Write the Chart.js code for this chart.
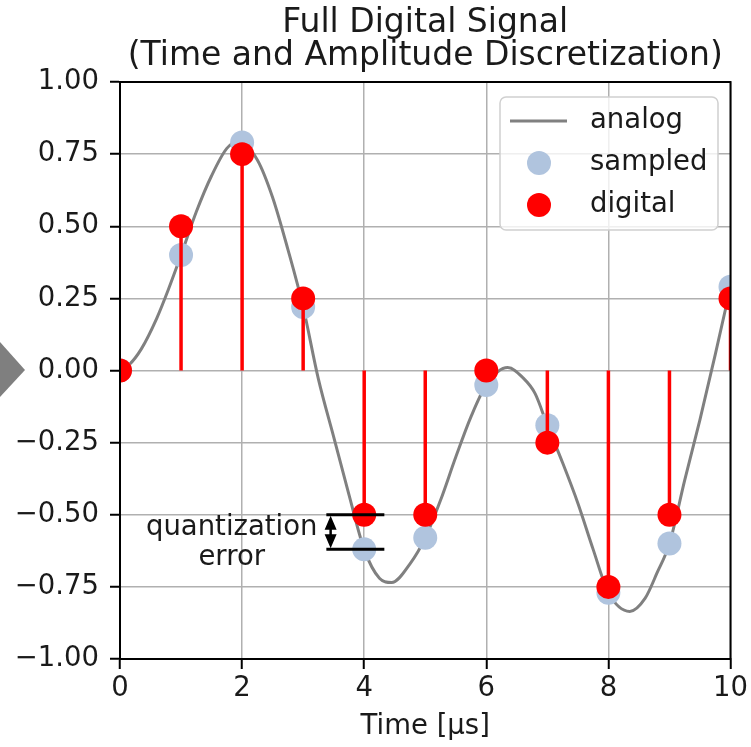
<!DOCTYPE html>
<html>
<head>
<meta charset="utf-8">
<script src="https://cdn.jsdelivr.net/npm/chart.js@4.4.1/dist/chart.umd.min.js"></script>
<style>
  html, body { margin: 0; padding: 0; background: #fff; }
  #wrap { width: 751px; height: 747px; position: relative; }
</style>
</head>
<body>
<div id="wrap"><canvas id="signalChart"></canvas></div>
<script>
// sample instants and values
const sampleTimes = [0, 1, 2, 3, 4, 5, 6, 7, 8, 9, 10];
const sampledValues = [0, 0.40, 0.79, 0.22, -0.62, -0.58, -0.05, -0.19, -0.77, -0.60, 0.29];
const digitalValues = [0, 0.5, 0.75, 0.25, -0.5, -0.5, 0, -0.25, -0.75, -0.5, 0.25];

// analog curve
const analogTimes = [0, 0.15, 0.35, 0.6, 0.8, 1, 1.25, 1.5, 1.75, 1.95, 2.25, 2.5, 2.75, 3, 3.25, 3.5, 3.75, 4, 4.25, 4.45, 4.75, 5, 5.25, 5.5, 5.75, 6, 6.35, 6.6, 6.8, 7, 7.25, 7.5, 7.75, 8, 8.35, 8.6, 8.8, 9, 9.25, 9.5, 9.75, 10];
const analogValues = [0, 0.02, 0.075, 0.18, 0.285, 0.40, 0.55, 0.675, 0.77, 0.795, 0.73, 0.60, 0.42, 0.22, -0.03, -0.23, -0.43, -0.62, -0.72, -0.735, -0.67, -0.58, -0.45, -0.30, -0.16, -0.05, 0.01, -0.025, -0.08, -0.19, -0.32, -0.46, -0.62, -0.77, -0.835, -0.79, -0.70, -0.60, -0.38, -0.17, 0.055, 0.29];

const xTicks = [0, 2, 4, 6, 8, 10];
const yTicks = [-1, -0.75, -0.5, -0.25, 0, 0.25, 0.5, 0.75, 1];

const titleLines = ['Full Digital Signal', '(Time and Amplitude Discretization)'];
const legendLabels = ['analog', 'sampled', 'digital'];

// annotation between digital and sampled value at t = 4
const errTime = 4;
const errText = ['quantization', 'error'];

const FONT = "'DejaVu Sans', sans-serif";
const TEXT = '#1a1a1a';
const C_ANALOG = '#808080';
const C_SAMPLED = '#b0c4de';
const C_DIGITAL = '#ff0000';

const analogData = analogTimes.map((t, i) => ({ x: t, y: analogValues[i] }));
const sampledData = sampleTimes.map((t, i) => ({ x: t, y: sampledValues[i] }));
const digitalData = sampleTimes.map((t, i) => ({ x: t, y: digitalValues[i] }));
const stemData = [];
sampleTimes.forEach((t, i) => {
    stemData.push({ x: t, y: 0 }, { x: t, y: digitalValues[i] }, { x: t, y: null });
});

const extras = {
    id: 'extras',
    beforeDraw(chart) {
        const ctx = chart.ctx;
        const a = chart.chartArea;
        ctx.save();
        // grey arrow shape on the left edge
        ctx.fillStyle = '#7f7f7f';
        ctx.beginPath();
        ctx.moveTo(0, 342);
        ctx.lineTo(25, 370);
        ctx.lineTo(0, 397);
        ctx.closePath();
        ctx.fill();

        // title, centred over the plot area
        ctx.fillStyle = TEXT;
        ctx.font = '33px ' + FONT;
        ctx.textAlign = 'center';
        ctx.textBaseline = 'alphabetic';
        const cx = (a.left + a.right) / 2;
        ctx.fillText(titleLines[0], cx, 32);
        ctx.fillText(titleLines[1], cx, 65);
        ctx.restore();
    },
    afterDatasetsDraw(chart) {
        const ctx = chart.ctx;
        const xs = chart.scales.x, ys = chart.scales.y;
        const a = chart.chartArea;

        // top and right spines
        ctx.save();
        ctx.strokeStyle = '#000';
        ctx.lineWidth = 2;
        ctx.strokeRect(a.left, a.top, a.right - a.left, a.bottom - a.top);

        // quantization error marker
        const dv = digitalValues[errTime], sv = sampledValues[errTime];
        const y1 = ys.getPixelForValue(dv), y2 = ys.getPixelForValue(sv);
        const xl = xs.getPixelForValue(errTime - 0.62), xr = xs.getPixelForValue(errTime + 0.33);
        const xa = xs.getPixelForValue(errTime - 0.55);
        ctx.lineWidth = 3;
        ctx.beginPath();
        ctx.moveTo(xl, y1); ctx.lineTo(xr, y1);
        ctx.moveTo(xl, y2); ctx.lineTo(xr, y2);
        ctx.stroke();
        ctx.lineWidth = 2.5;
        ctx.beginPath();
        ctx.moveTo(xa, y1 + 8); ctx.lineTo(xa, y2 - 8);
        ctx.stroke();
        ctx.fillStyle = '#000';
        ctx.beginPath();
        ctx.moveTo(xa, y1 + 1); ctx.lineTo(xa - 6, y1 + 15); ctx.lineTo(xa + 6, y1 + 15); ctx.closePath();
        ctx.moveTo(xa, y2 - 1); ctx.lineTo(xa - 6, y2 - 15); ctx.lineTo(xa + 6, y2 - 15); ctx.closePath();
        ctx.fill();

        ctx.font = '27.5px ' + FONT;
        ctx.fillStyle = TEXT;
        ctx.textAlign = 'center';
        ctx.textBaseline = 'alphabetic';
        const tx = xs.getPixelForValue(1.83);
        ctx.fillText(errText[0], tx, ys.getPixelForValue(-0.569));
        ctx.fillText(errText[1], tx, ys.getPixelForValue(-0.674));

        // legend
        const lx = 500, ly = 97, lw = 218, lh = 133;
        ctx.fillStyle = 'rgba(255,255,255,0.8)';
        ctx.strokeStyle = '#d0d0d0';
        ctx.lineWidth = 1.5;
        ctx.beginPath();
        ctx.roundRect(lx, ly, lw, lh, 6);
        ctx.fill();
        ctx.stroke();

        const rows = [121, 163, 205];
        ctx.strokeStyle = C_ANALOG;
        ctx.lineWidth = 3;
        ctx.beginPath();
        ctx.moveTo(510, rows[0]); ctx.lineTo(567, rows[0]);
        ctx.stroke();
        ctx.fillStyle = C_SAMPLED;
        ctx.beginPath(); ctx.arc(539, rows[1], 12, 0, Math.PI * 2); ctx.fill();
        ctx.fillStyle = C_DIGITAL;
        ctx.beginPath(); ctx.arc(539, rows[2], 12, 0, Math.PI * 2); ctx.fill();

        ctx.fillStyle = TEXT;
        ctx.textAlign = 'left';
        ctx.textBaseline = 'middle';
        legendLabels.forEach((s, i) => ctx.fillText(s, 590, rows[i]));
        ctx.restore();
    }
};

const ctx = document.getElementById('signalChart').getContext('2d');
const signalChart = new Chart(ctx, {
    type: 'line',
    data: {
        datasets: [
            { label: 'digital', data: digitalData, showLine: false, pointRadius: 12, pointHoverRadius: 12,
              pointBackgroundColor: C_DIGITAL, pointBorderWidth: 0, clip: 0 },
            { label: 'stems', data: stemData, borderColor: C_DIGITAL, borderWidth: 3.5, pointRadius: 0,
              spanGaps: false, clip: 0 },
            { label: 'sampled', data: sampledData, showLine: false, pointRadius: 12, pointHoverRadius: 12,
              pointBackgroundColor: C_SAMPLED, pointBorderWidth: 0, clip: 0 },
            { label: 'analog', data: analogData, borderColor: C_ANALOG, borderWidth: 3, pointRadius: 0,
              cubicInterpolationMode: 'monotone', clip: 0 }
        ]
    },
    options: {
        responsive: true,
        maintainAspectRatio: false,
        animation: false,
        layout: { padding: { left: 0, right: 19, top: 82, bottom: 0 } },
        plugins: {
            legend: { display: false },
            tooltip: { enabled: false },
            title: { display: false }
        },
        scales: {
            x: {
                type: 'linear', min: 0, max: 10,
                afterBuildTicks: s => { s.ticks = xTicks.map(v => ({ value: v })); },
                ticks: { color: TEXT, font: { family: FONT, size: 27.5 }, padding: 3, maxRotation: 0,
                         callback: v => String(v) },
                grid: { color: '#b0b0b0', lineWidth: 1.5, tickLength: 10, tickColor: '#000', tickWidth: 2 },
                border: { color: '#000', width: 2 },
                title: { display: true, text: 'Time [μs]', color: TEXT,
                         font: { family: FONT, size: 27.5 }, padding: { top: 0, bottom: 4 } },
                afterFit: s => { s.height = 88; }
            },
            y: {
                type: 'linear', min: -1, max: 1,
                afterBuildTicks: s => { s.ticks = yTicks.map(v => ({ value: v })); },
                ticks: { color: TEXT, font: { family: FONT, size: 27.5 }, padding: 11,
                         callback: v => (v < 0 ? '\u2212' : '') + Math.abs(v).toFixed(2) },
                grid: { color: '#b0b0b0', lineWidth: 1.5, tickLength: 10, tickColor: '#000', tickWidth: 2 },
                border: { color: '#000', width: 2 },
                afterFit: s => { s.width = 120; }
            }
        }
    },
    plugins: [extras]
});
</script>
</body>
</html>
